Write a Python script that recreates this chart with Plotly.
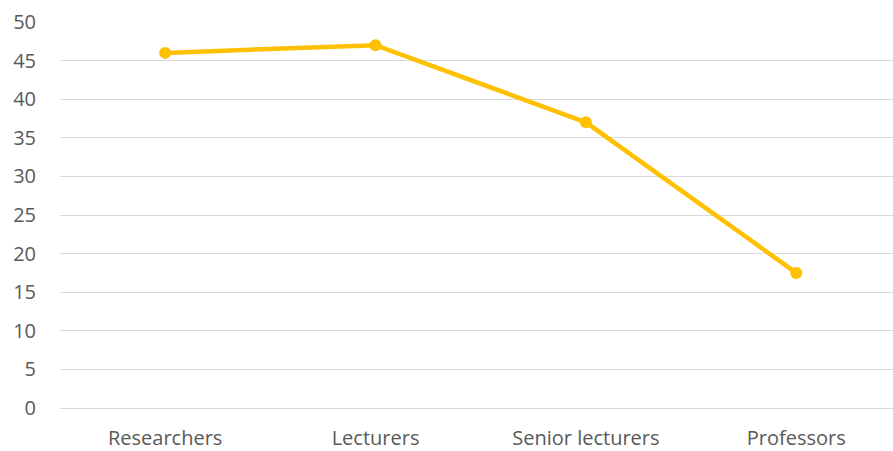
import plotly.graph_objects as go

categories = ["Researchers", "Lecturers", "Senior lecturers", "Professors"]
values = [46, 47, 37, 17.5]
y_ticks = list(range(0, 51, 5))

fig = go.Figure(
    go.Scatter(
        x=categories,
        y=values,
        mode="lines+markers",
        line=dict(color="#FFC000", width=4.5),
        marker=dict(color="#FFC000", size=12),
        hoverinfo="x+y",
    )
)

fig.update_layout(
    width=893,
    height=451,
    margin=dict(l=60, r=0, t=22, b=41),
    paper_bgcolor="white",
    plot_bgcolor="white",
    showlegend=False,
    font=dict(family="Open Sans, Liberation Sans, sans-serif", size=20, color="#595959"),
)

fig.update_xaxes(
    type="category",
    range=[-0.5, 3.46],
    showgrid=False,
    showline=False,
    ticks="",
    ticklabelstandoff=16,
)

fig.update_yaxes(
    range=[0, 50],
    tickvals=y_ticks,
    showgrid=True,
    gridcolor="#d9d9d9",
    gridwidth=1,
    zeroline=True,
    zerolinecolor="#d9d9d9",
    zerolinewidth=1,
    showline=False,
    ticks="",
    ticklabelstandoff=23,
)

fig.write_html("out.html")
